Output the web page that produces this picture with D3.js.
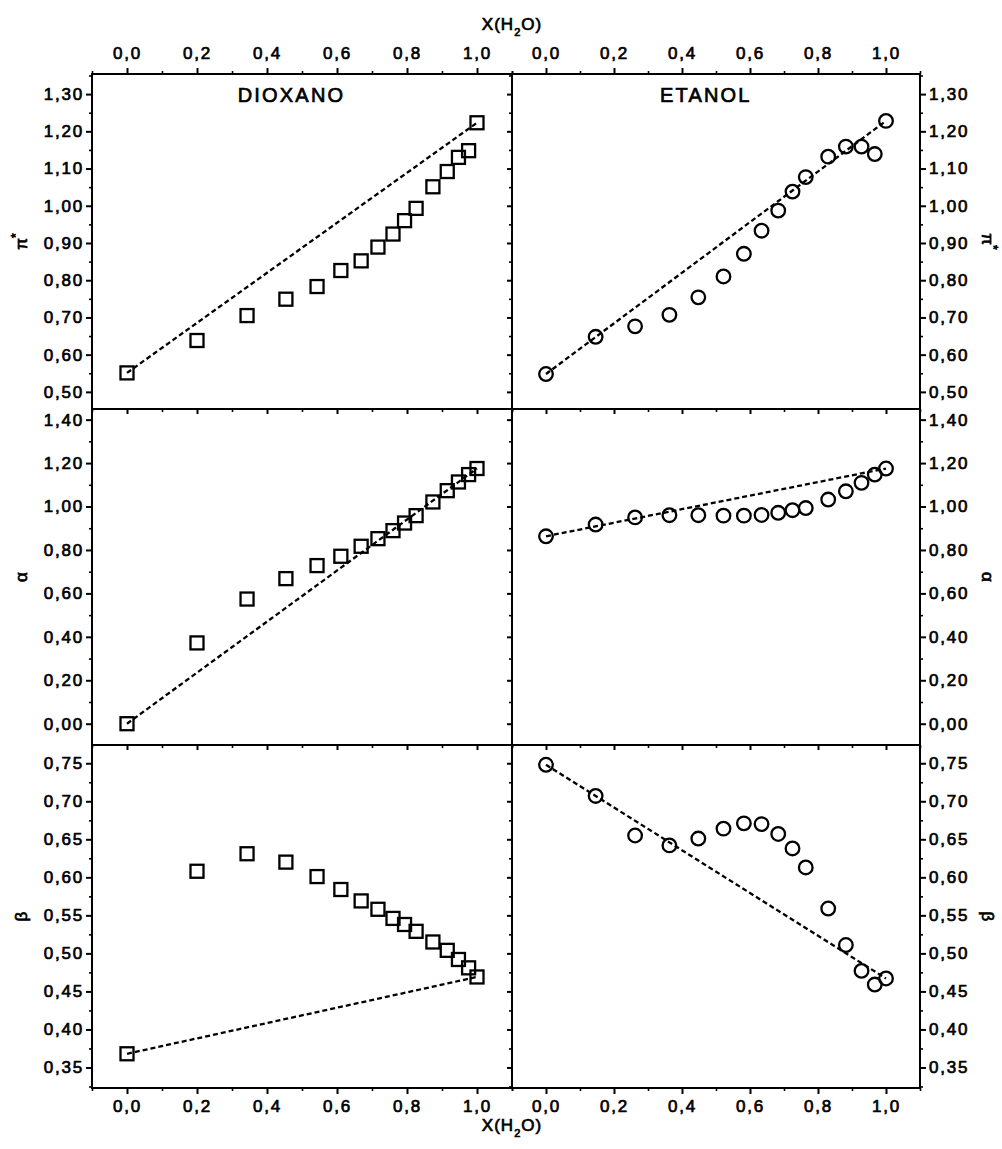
<!DOCTYPE html>
<html lang="en">
<head>
<meta charset="UTF-8">
<title>Dioxano / Etanol - parametros solvatocromicos</title>
<script src="https://d3js.org/d3.v7.min.js"></script>
<style>
    body { margin: 0; background: #fff; }
    svg text { font-family: "Liberation Sans", Arial, sans-serif; fill: #000; stroke: #000; stroke-width: 0.7px; }
    .tick text { font-size: 17px; letter-spacing: 1.8px; }
    .axis path.domain { display: none; }
    .axis line { stroke: #000; stroke-width: 2px; }
    .axis.minor line { stroke-width: 1.6px; }
    .frame { fill: none; stroke: #000; stroke-width: 2px; }
    .fit { fill: none; stroke: #000; stroke-width: 2.3px; stroke-dasharray: 5,3; }
    .mark { fill: none; stroke: #000; stroke-width: 2.3px; }
</style>
</head>
<body>
<svg id="chart" width="1002" height="1149"></svg>
<script>
// X(H2O) of each measured mixture
const xDioxano = [0, 0.20, 0.343, 0.454, 0.543, 0.611, 0.669, 0.717, 0.760, 0.793, 0.826, 0.874, 0.915, 0.947, 0.976, 1.0];
const xEtanol  = [0, 0.146, 0.262, 0.363, 0.448, 0.522, 0.582, 0.634, 0.683, 0.725, 0.764, 0.830, 0.882, 0.928, 0.967, 1.0];

// pi*, alpha, beta
const piDioxano    = [0.551, 0.638, 0.705, 0.749, 0.783, 0.826, 0.852, 0.889, 0.924, 0.960, 0.993, 1.051, 1.092, 1.130, 1.148, 1.223];
const alphaDioxano = [0.000, 0.372, 0.574, 0.668, 0.728, 0.771, 0.817, 0.852, 0.889, 0.924, 0.958, 1.021, 1.073, 1.113, 1.147, 1.175];
const betaDioxano  = [0.368, 0.608, 0.631, 0.620, 0.601, 0.584, 0.569, 0.558, 0.546, 0.538, 0.529, 0.515, 0.504, 0.492, 0.481, 0.469];

const piEtanol    = [0.548, 0.648, 0.676, 0.707, 0.754, 0.810, 0.871, 0.933, 0.987, 1.038, 1.077, 1.132, 1.159, 1.159, 1.139, 1.228];
const alphaEtanol = [0.863, 0.917, 0.950, 0.960, 0.960, 0.958, 0.958, 0.961, 0.971, 0.983, 0.993, 1.032, 1.070, 1.109, 1.147, 1.175];
const betaEtanol  = [0.748, 0.707, 0.655, 0.642, 0.651, 0.664, 0.671, 0.670, 0.657, 0.638, 0.613, 0.559, 0.511, 0.477, 0.459, 0.467];

const solvents = ["DIOXANO", "ETANOL"];
const xTicks = [0, 0.2, 0.4, 0.6, 0.8, 1.0];
const piTicks = [0.50, 0.60, 0.70, 0.80, 0.90, 1.00, 1.10, 1.20, 1.30];
const alphaTicks = [0.00, 0.20, 0.40, 0.60, 0.80, 1.00, 1.20, 1.40];
const betaTicks = [0.35, 0.40, 0.45, 0.50, 0.55, 0.60, 0.65, 0.70, 0.75];

// layout of the 3 x 2 grid
const colX = [[92, 512], [512, 920]];
const rowY = [[74, 409], [409, 745], [745, 1088]];
const xDomain = [-0.1, 1.1];
const titleAt = 0.47;

const fmtY = d => d3.format(".2f")(d).replace(".", ",");
const fmtX = d => d3.format(".1f")(d).replace(".", ",");

// half way ticks, plus one past each end if it still fits in the domain
function minorTicks(major, domain) {
    const step = major[1] - major[0];
    const out = d3.pairs(major, (a, b) => (a + b) / 2);
    out.unshift(major[0] - step / 2);
    out.push(major[major.length - 1] + step / 2);
    return out.filter(v => v >= Math.min(...domain) - 1e-9 && v <= Math.max(...domain) + 1e-9);
}

const rows = [
    { sym: "π", sup: "*", domain: [0.454, 1.354], ticks: piTicks, series: [piDioxano, piEtanol] },
    { sym: "α", sup: "", domain: [-0.098, 1.449], ticks: alphaTicks, series: [alphaDioxano, alphaEtanol] },
    { sym: "β", sup: "", domain: [0.323, 0.774], ticks: betaTicks, series: [betaDioxano, betaEtanol] }
];
const xs = [xDioxano, xEtanol];

const svg = d3.select("#chart");

const xScales = colX.map(c => d3.scaleLinear().domain(xDomain).range(c));
const yScales = rows.map((r, i) => d3.scaleLinear().domain(r.domain).range([rowY[i][1], rowY[i][0]]));

rows.forEach((row, ri) => {
    const y = yScales[ri];
    const yMinor = minorTicks(row.ticks, row.domain);

    xs.forEach((xv, ci) => {
        const x = xScales[ci];
        const vals = row.series[ci];
        const pts = xv.map((d, i) => ({ x: d, y: vals[i] }));
        const g = svg.append("g");

        // ideal mixing line between pure solvents
        const ends = [pts[0], pts[pts.length - 1]];
        g.append("path")
            .attr("class", "fit")
            .attr("d", d3.line().x(d => x(d.x)).y(d => y(d.y))(ends));

        if (ci === 0) {
            g.selectAll("rect.mark").data(pts).enter().append("rect")
                .attr("class", "mark")
                .attr("x", d => x(d.x) - 6.5)
                .attr("y", d => y(d.y) - 6.5)
                .attr("width", 13)
                .attr("height", 13);
        } else {
            g.selectAll("circle.mark").data(pts).enter().append("circle")
                .attr("class", "mark")
                .attr("cx", d => x(d.x))
                .attr("cy", d => y(d.y))
                .attr("r", 6.8);
        }

        // x ticks: outward on top and bottom of the grid, pointing down on inner borders
        const xMinor = minorTicks(xTicks, xDomain);
        if (ri === 0) {
            svg.append("g").attr("class", "axis").attr("transform", `translate(0,${rowY[0][0]})`)
                .call(d3.axisTop(x).tickValues(xTicks).tickSize(6).tickPadding(9).tickFormat(fmtX));
            svg.append("g").attr("class", "axis minor").attr("transform", `translate(0,${rowY[0][0]})`)
                .call(d3.axisTop(x).tickValues(xMinor).tickSize(3).tickFormat(""));
        } else {
            svg.append("g").attr("class", "axis").attr("transform", `translate(0,${rowY[ri][0]})`)
                .call(d3.axisBottom(x).tickValues(xTicks).tickSize(5).tickFormat(""));
            svg.append("g").attr("class", "axis minor").attr("transform", `translate(0,${rowY[ri][0]})`)
                .call(d3.axisBottom(x).tickValues(xMinor).tickSize(3).tickFormat(""));
        }
        if (ri === rows.length - 1) {
            svg.append("g").attr("class", "axis").attr("transform", `translate(0,${rowY[ri][1]})`)
                .call(d3.axisBottom(x).tickValues(xTicks).tickSize(6).tickPadding(6).tickFormat(fmtX));
            svg.append("g").attr("class", "axis minor").attr("transform", `translate(0,${rowY[ri][1]})`)
                .call(d3.axisBottom(x).tickValues(xMinor).tickSize(3).tickFormat(""));
        }
    });

    // y ticks: labelled outside, plain ticks on the shared border
    svg.append("g").attr("class", "axis").attr("transform", `translate(${colX[0][0]},0)`)
        .call(d3.axisLeft(y).tickValues(row.ticks).tickSize(6).tickPadding(2).tickFormat(fmtY));
    svg.append("g").attr("class", "axis minor").attr("transform", `translate(${colX[0][0]},0)`)
        .call(d3.axisLeft(y).tickValues(yMinor).tickSize(3).tickFormat(""));
    svg.append("g").attr("class", "axis").attr("transform", `translate(${colX[0][1]},0)`)
        .call(d3.axisLeft(y).tickValues(row.ticks).tickSize(5).tickFormat(""));
    svg.append("g").attr("class", "axis minor").attr("transform", `translate(${colX[0][1]},0)`)
        .call(d3.axisLeft(y).tickValues(yMinor).tickSize(3).tickFormat(""));
    svg.append("g").attr("class", "axis").attr("transform", `translate(${colX[1][1]},0)`)
        .call(d3.axisRight(y).tickValues(row.ticks).tickSize(6).tickPadding(3).tickFormat(fmtY));
    svg.append("g").attr("class", "axis minor").attr("transform", `translate(${colX[1][1]},0)`)
        .call(d3.axisRight(y).tickValues(yMinor).tickSize(3).tickFormat(""));

    // parameter names on both sides
    const midY = (rowY[ri][0] + rowY[ri][1]) / 2;
    [[21, -90], [988, 90]].forEach(([lx, rot]) => {
        const t = svg.append("text")
            .attr("transform", `translate(${lx},${midY}) rotate(${rot})`)
            .attr("text-anchor", "middle")
            .attr("dy", "0.35em")
            .style("font-size", "17px");
        t.append("tspan").text(row.sym);
        if (row.sup) t.append("tspan").attr("baseline-shift", "super").style("font-size", "12px").text(row.sup);
    });
});

// panel frames
rowY.forEach(ry => colX.forEach(cx => {
    svg.append("rect").attr("class", "frame")
        .attr("x", cx[0]).attr("y", ry[0])
        .attr("width", cx[1] - cx[0]).attr("height", ry[1] - ry[0]);
}));

// solvent titles
solvents.forEach((s, ci) => {
    svg.append("text")
        .attr("x", xScales[ci](titleAt))
        .attr("y", 102)
        .attr("text-anchor", "middle")
        .style("font-size", "20px")
        .style("letter-spacing", "2.2px")
        .text(s);
});

// X(H2O) axis titles
[30, 1131].forEach(by => {
    const t = svg.append("text")
        .attr("x", 512).attr("y", by)
        .attr("text-anchor", "middle")
        .style("font-size", "17px")
        .style("letter-spacing", "1px");
    t.append("tspan").text("X(H");
    t.append("tspan").attr("baseline-shift", "sub").style("font-size", "11px").text("2");
    t.append("tspan").attr("baseline-shift", "0").text("O)");
});
</script>
</body>
</html>
